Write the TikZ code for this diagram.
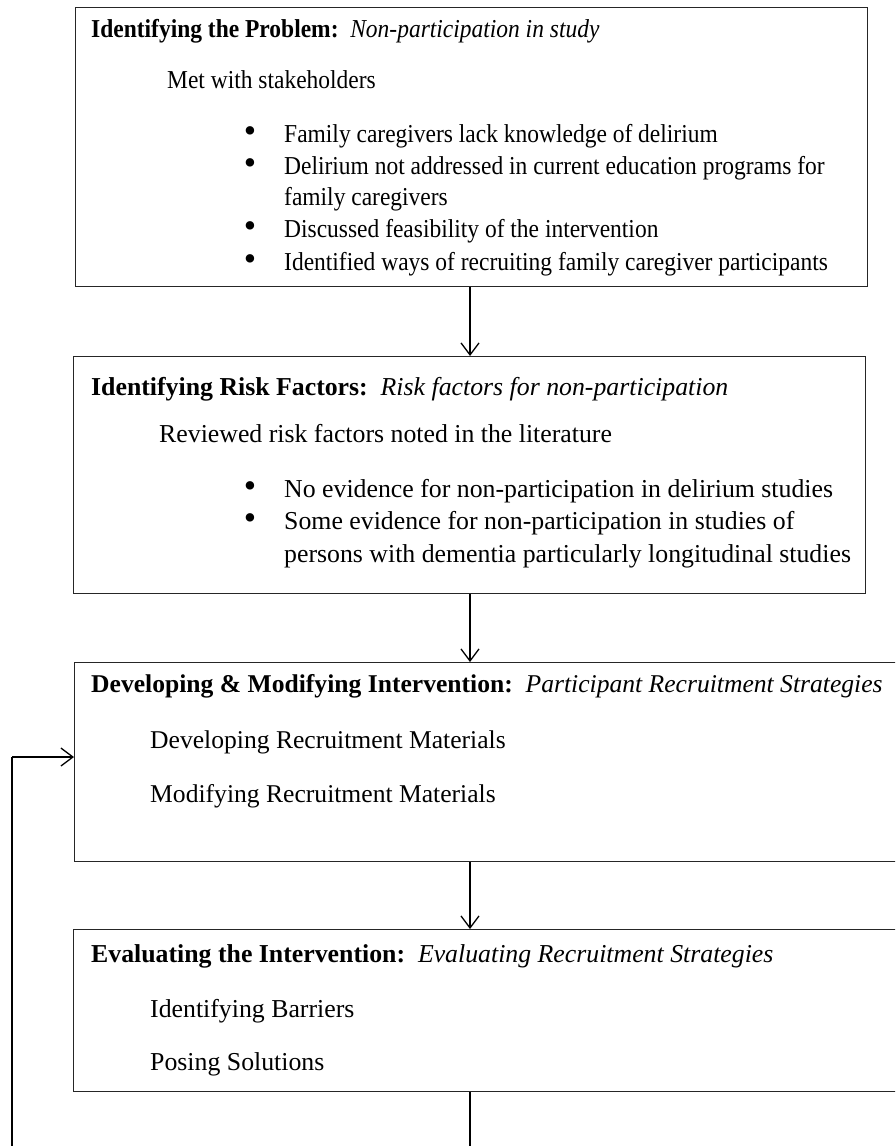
\documentclass[tikz,border=0pt]{standalone}
\usepackage{fontspec}
\setmainfont{Liberation Serif}
\newfontfamily\condfont[FakeStretch=0.91]{Liberation Serif}
\usetikzlibrary{arrows.meta}
\begin{document}
\begin{tikzpicture}[x=1pt,y=-1pt,
  box/.style={draw=black!85, line width=1.4pt, anchor=north west, inner sep=0pt},
  txt/.style={anchor=base west, inner sep=0pt, font=\condfont\fontsize{25.8}{30}\selectfont},
  txtb/.style={anchor=base west, inner sep=0pt, font=\fontsize{25.8}{30}\selectfont},
  txtc/.style={anchor=base west, inner sep=0pt, font=\fontsize{25.6}{30}\selectfont},
  bul/.style={anchor=base, inner sep=0pt, font=\fontsize{23.5}{28}\selectfont},
  arr/.style={line width=1.4pt, -{Straight Barb[length=12pt,width=18pt,line width=1.3pt]}},
  lnk/.style={line width=1.4pt}]
\useasboundingbox (0,0) rectangle (895,1146);
\clip (0,0) rectangle (895,1146);
% boxes
\node[box, minimum width=792pt, minimum height=279pt] (b1) at (75,7) {};
\node[box, minimum width=792pt, minimum height=237pt] (b2) at (73,356) {};
\node[box, minimum width=840pt, minimum height=199pt] (b3) at (74,662) {};
\node[box, minimum width=840pt, minimum height=162pt] (b4) at (73,929) {};
% box 1 text
\node[txt] (h1) at (91,37) {\textbf{Identifying the Problem:}\ \ \textit{Non-participation in study}};
\node[txt] (m1) at (167,88) {Met with stakeholders};
\node[bul] (d11) at (250,142) {\scalebox{1.5}{\textbullet}};
\node[txt] (t11) at (284,142) {Family caregivers lack knowledge of delirium};
\node[bul] (d12) at (250,174) {\scalebox{1.5}{\textbullet}};
\node[txt] (t12) at (284,174) {Delirium not addressed in current education programs for};
\node[txt] (t12b) at (284,205) {family caregivers};
\node[bul] (d13) at (250,237) {\scalebox{1.5}{\textbullet}};
\node[txt] (t13) at (284,237) {Discussed feasibility of the intervention};
\node[bul] (d14) at (250,270) {\scalebox{1.5}{\textbullet}};
\node[txt] (t14) at (284,270) {Identified ways of recruiting family caregiver participants};
% box 2 text
\node[txtb] (h2) at (91,395) {\textbf{Identifying Risk Factors:}\ \ \textit{Risk factors for non-participation}};
\node[txtb] (m2) at (159,442) {Reviewed risk factors noted in the literature};
\node[bul] (d21) at (250,497) {\scalebox{1.5}{\textbullet}};
\node[txtb] (t21) at (284,497) {No evidence for non-participation in delirium studies};
\node[bul] (d22) at (250,529) {\scalebox{1.5}{\textbullet}};
\node[txtb] (t22) at (284,529) {Some evidence for non-participation in studies of};
\node[txtb] (t22b) at (284,562) {persons with dementia particularly longitudinal studies};
% box 3 text
\node[txtc] (h3) at (91,692) {\textbf{Developing \& Modifying Intervention:}\ \ \textit{Participant Recruitment Strategies}};
\node[txtc] (m31) at (150,748) {Developing Recruitment Materials};
\node[txtc] (m32) at (150,802) {Modifying Recruitment Materials};
% box 4 text
\node[txtb] (h4) at (91,962) {\textbf{Evaluating the Intervention:}\ \ \textit{Evaluating Recruitment Strategies}};
\node[txtb] (m41) at (150,1017) {Identifying Barriers};
\node[txtb] (m42) at (150,1070) {Posing Solutions};
% connectors
\coordinate (cx) at (470,0);
\draw[arr] (b1.south -| cx) -- (b2.north -| cx);
\draw[arr] (b2.south -| cx) -- (b3.north -| cx);
\draw[arr] (b3.south -| cx) -- (b4.north -| cx);
\coordinate (lb) at (470,1160);
\coordinate (lc) at (12,1160);
\coordinate (la) at (12,757);
\draw[lnk] (b4.south -| cx) -- (lb) -- (lc) -- (la);
\draw[arr] (la) -- (b3.west |- la);
\end{tikzpicture}
\end{document}
